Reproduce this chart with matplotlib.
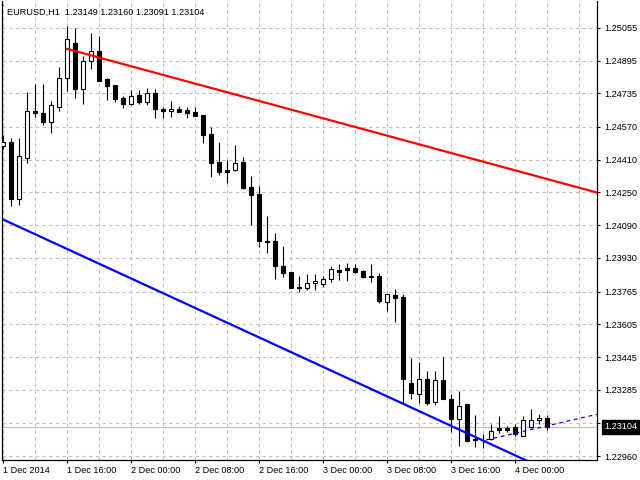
import numpy as np
import matplotlib
matplotlib.use('Agg')
import matplotlib.pyplot as plt

# EURUSD H1, bars from 1 Dec 08:00 to 4 Dec 04:00
opens = [1.24475, 1.24495, 1.24216, 1.24417, 1.24648, 1.24638, 1.24593, 1.24669, 1.24808, 1.24980,
         1.24757, 1.24891, 1.24940, 1.24803, 1.24774, 1.24710, 1.24684, 1.24725, 1.24690, 1.24734,
         1.24658, 1.24646, 1.24658, 1.24653, 1.24641, 1.24627, 1.24534, 1.24399, 1.24359, 1.24359,
         1.24399, 1.24275, 1.24242, 1.24014, 1.24011, 1.23890, 1.23861, 1.23789, 1.23784, 1.23806,
         1.23804, 1.23825, 1.23872, 1.23880, 1.23880, 1.23866, 1.23841, 1.23841, 1.23716, 1.23748,
         1.23740, 1.23317, 1.23263, 1.23338, 1.23224, 1.23333, 1.23240, 1.23141, 1.23214, 1.23046,
         1.23040, 1.23043, 1.23097, 1.23097, 1.23103, 1.23061, 1.23102, 1.23136, 1.23149]
highs = [1.24531, 1.24516, 1.24514, 1.24741, 1.24778, 1.24780, 1.24697, 1.24864, 1.25063, 1.25052,
         1.24918, 1.25031, 1.25014, 1.24808, 1.24776, 1.24723, 1.24751, 1.24751, 1.24759, 1.24754,
         1.24667, 1.24695, 1.24671, 1.24666, 1.24669, 1.24630, 1.24570, 1.24496, 1.24408, 1.24480,
         1.24421, 1.24330, 1.24281, 1.24135, 1.24052, 1.23989, 1.23863, 1.23841, 1.23853, 1.23850,
         1.23841, 1.23890, 1.23900, 1.23903, 1.23900, 1.23871, 1.23900, 1.23857, 1.23752, 1.23778,
         1.23752, 1.23442, 1.23421, 1.23377, 1.23377, 1.23447, 1.23263, 1.23279, 1.23216, 1.23162,
         1.23069, 1.23118, 1.23159, 1.23108, 1.23118, 1.23159, 1.23191, 1.23165, 1.23160]
lows = [1.24462, 1.24185, 1.24190, 1.24392, 1.24617, 1.24581, 1.24542, 1.24649, 1.24747, 1.24713,
        1.24682, 1.24855, 1.24793, 1.24702, 1.24693, 1.24664, 1.24677, 1.24681, 1.24679, 1.24614,
        1.24615, 1.24620, 1.24641, 1.24612, 1.24623, 1.24493, 1.24327, 1.24337, 1.24294, 1.24356,
        1.24265, 1.24091, 1.23985, 1.23952, 1.23828, 1.23838, 1.23783, 1.23765, 1.23773, 1.23773,
        1.23789, 1.23813, 1.23822, 1.23817, 1.23857, 1.23833, 1.23813, 1.23711, 1.23670, 1.23618,
        1.23219, 1.23239, 1.23222, 1.23209, 1.23211, 1.23238, 1.23080, 1.23012, 1.23031, 1.23007,
        1.23002, 1.23040, 1.23072, 1.23077, 1.23061, 1.23059, 1.23098, 1.23117, 1.23091]
closes = [1.24498, 1.24216, 1.24426, 1.24646, 1.24640, 1.24593, 1.24676, 1.24808, 1.24998, 1.24757,
          1.24891, 1.24940, 1.24796, 1.24772, 1.24707, 1.24681, 1.24723, 1.24693, 1.24734, 1.24656,
          1.24646, 1.24658, 1.24644, 1.24640, 1.24625, 1.24533, 1.24395, 1.24351, 1.24351, 1.24392,
          1.24273, 1.24239, 1.24014, 1.24009, 1.23892, 1.23857, 1.23784, 1.23783, 1.23807, 1.23817,
          1.23827, 1.23874, 1.23862, 1.23872, 1.23862, 1.23838, 1.23836, 1.23721, 1.23752, 1.23736,
          1.23336, 1.23268, 1.23338, 1.23222, 1.23333, 1.23239, 1.23144, 1.23206, 1.23036, 1.23040,
          1.23038, 1.23085, 1.23090, 1.23090, 1.23069, 1.23136, 1.23136, 1.23146, 1.23104]

price_ticks = [1.25055, 1.24895, 1.24735, 1.24570, 1.24410, 1.24250, 1.24090,
               1.23930, 1.23765, 1.23605, 1.23445, 1.23285, 1.23125, 1.22960]
time_tick_bars = [0, 8, 16, 24, 32, 40, 48, 56, 64]
time_tick_labels = ['1 Dec 2014', '1 Dec 16:00', '2 Dec 00:00', '2 Dec 08:00', '2 Dec 16:00',
                    '3 Dec 00:00', '3 Dec 08:00', '3 Dec 16:00', '4 Dec 00:00']

# trend lines: (bar, price) anchors
red_line = [(8, 1.24952), (74.2, 1.24250)]
blue_line = [(0, 1.24118), (65, 1.22947)]
blue_dash = [(60.4, 1.23040), (74.2, 1.23165)]

header = 'EURUSD,H1  1.23149 1.23160 1.23091 1.23104'
last_price = closes[-1]

plt.rcParams['font.family'] = ['Liberation Sans', 'DejaVu Sans']

fig = plt.figure(figsize=(6.4, 4.8), dpi=100)
ax = fig.add_axes([2 / 640, 20 / 480, 595 / 640, 459 / 480])

n = len(opens)
idx = np.arange(n)
o = np.array(opens)
c = np.array(closes)
h = np.array(highs)
l = np.array(lows)

grid_kw = dict(color='#c0c0c0', linewidth=0.8, linestyle=(0, (3, 3)), zorder=0)
for p in price_ticks:
    ax.axhline(p, **grid_kw)
for b in range(0, 76, 4):
    ax.axvline(b, **grid_kw)

ax.axhline(last_price, color='#c0c0c0', linewidth=0.8, zorder=1)

ax.vlines(idx, l, h, color='black', linewidth=0.8, zorder=2)
bull = c >= o
bottoms = np.minimum(o, c)
heights = np.maximum(np.abs(c - o), 0.000015)
ax.bar(idx[bull], heights[bull], bottom=bottoms[bull], width=0.62,
       color='white', edgecolor='black', linewidth=0.8, zorder=3)
ax.bar(idx[~bull], heights[~bull], bottom=bottoms[~bull], width=0.62,
       color='black', edgecolor='black', linewidth=0.8, zorder=3)


def extend(pts, x0, x1):
    (a, pa), (b, pb) = pts
    k = (pb - pa) / (b - a)
    return [x0, x1], [pa + k * (x0 - a), pa + k * (x1 - a)]


xs, ys = extend(red_line, red_line[0][0], 80)
ax.plot(xs, ys, color='#ff0000', linewidth=1.6, zorder=4)
xs, ys = extend(blue_line, -2, 80)
ax.plot(xs, ys, color='#0000ff', linewidth=1.6, zorder=4)
xs, ys = extend(blue_dash, blue_dash[0][0], 80)
ax.plot(xs, ys, color='#0000ff', linewidth=0.9, linestyle=(0, (3, 3)), zorder=4)

ax.set_xlim(-0.125, 74.25)
ax.set_ylim(1.22942, 1.25186)

ax.yaxis.tick_right()
ax.set_yticks(price_ticks)
ax.set_yticklabels(['%.5f' % p for p in price_ticks])
ax.set_xticks(time_tick_bars)
ax.set_xticklabels(time_tick_labels, ha='left')
ax.tick_params(axis='y', direction='out', length=2, width=0.8, pad=3, labelsize=6.6, colors='black')
ax.tick_params(axis='x', direction='out', length=2, width=0.8, pad=2, labelsize=6.6, colors='black')
for lab in ax.get_xticklabels():
    lab.set_x(lab.get_position()[0])
ax.spines['top'].set_visible(False)
for s in ['left', 'right', 'bottom']:
    ax.spines[s].set_linewidth(0.9)
    ax.spines[s].set_color('black')

ax.annotate('%.5f' % last_price, xy=(1.0, last_price), xycoords=('axes fraction', 'data'),
            xytext=(5, 0), textcoords='offset points', va='center', ha='left',
            fontsize=6.6, color='white',
            bbox=dict(boxstyle='square,pad=0.25', fc='black', ec='black'), zorder=10,
            annotation_clip=False)

ax.text(5 / 595, 1 - 11 / 459, header, transform=ax.transAxes, fontsize=6.6,
        va='center', ha='left', color='black')

fig.savefig('out.png', dpi=100, facecolor='white')
